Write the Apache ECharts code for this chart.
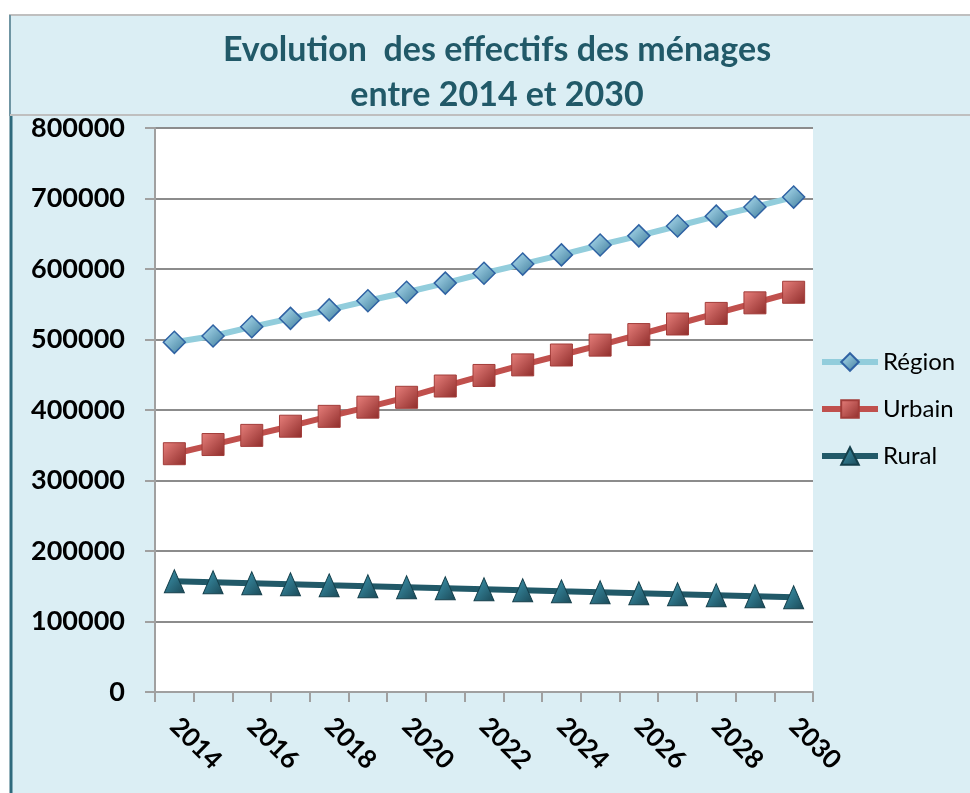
<!DOCTYPE html>
<html>
<head>
<meta charset="utf-8">
<script src="https://cdn.jsdelivr.net/npm/echarts@6/dist/echarts.min.js"></script>
<style>
html,body{margin:0;padding:0;background:#fff;}
#chart{width:970px;height:793px;}
</style>
</head>
<body>
<div id="chart"></div>
<script>
var titleLines = ['Evolution  des effectifs des ménages', 'entre 2014 et 2030'];
var years = ['2014','2015','2016','2017','2018','2019','2020','2021','2022','2023','2024','2025','2026','2027','2028','2029','2030'];
var region = [496000, 505000, 518000, 530000, 542000, 555000, 567000, 580000, 594000, 607000, 620000, 634000, 647000, 661000, 675000, 688000, 702000];
var urbain = [338000, 351000, 364000, 377000, 391000, 404000, 418000, 434000, 449000, 464000, 478000, 492000, 507000, 522000, 537000, 552000, 567000];
var rural  = [157000, 155600, 154200, 152800, 151300, 149900, 148500, 147100, 145700, 144300, 142800, 141400, 140000, 138600, 137200, 135800, 134300];
var seriesNames = ['Région', 'Urbain', 'Rural'];

var chart = echarts.init(document.getElementById('chart'));

function grad(c1, c2) {
  return {type:'linear', x:0, y:0, x2:1, y2:1, colorStops:[{offset:0,color:c1},{offset:1,color:c2}]};
}

var option = {
  backgroundColor: '#ffffff',
  animation: false,
  graphic: [
    {type:'rect', shape:{x:10, y:15, width:962, height:100}, style:{fill:'#dbeef4', stroke:'#bfbfbf', lineWidth:2}, z:-10},
    {type:'rect', shape:{x:10, y:115, width:962, height:690}, style:{fill:'#dbeef4', stroke:null}, z:-10},
    {type:'line', shape:{x1:10, y1:15, x2:10, y2:115}, style:{stroke:'#6f95a3', lineWidth:2}, z:-9},
    {type:'line', shape:{x1:11, y1:115, x2:11, y2:793}, style:{stroke:'#2f6a7c', lineWidth:3}, z:-9},
    {type:'line', shape:{x1:10, y1:115, x2:970, y2:115}, style:{stroke:'#bfbfbf', lineWidth:2}, z:-9},
    {type:'text', x:497, y:50, style:{text:titleLines[0], fill:'#215968', font:'bold 34px Lato', textAlign:'center', textVerticalAlign:'middle'}},
    {type:'text', x:497, y:95, style:{text:titleLines[1], fill:'#215968', font:'bold 34px Lato', textAlign:'center', textVerticalAlign:'middle'}}
  ],
  legend: {
    orient: 'vertical',
    left: 814,
    top: 345,
    itemWidth: 56,
    itemHeight: 22,
    itemGap: 23,
    data: seriesNames,
    lineStyle: {width: 6},
    textStyle: {fontFamily:'Lato', fontSize:24, color:'#000'}
  },
  grid: {
    left: 155, right: 157, top: 128, bottom: 101,
    show: true, backgroundColor: '#ffffff', borderWidth: 0
  },
  xAxis: {
    type: 'category',
    data: years,
    boundaryGap: true,
    axisLine: {lineStyle:{color:'#a0a0a0', width:2}},
    axisTick: {show:true, interval:0, length:10, lineStyle:{color:'#a0a0a0', width:2}},
    axisLabel: {interval:1, rotate:-45, margin:30, fontFamily:'Lato', fontWeight:'bold', fontSize:26, color:'#000'}
  },
  yAxis: {
    type: 'value',
    min: 0, max: 800000, interval: 100000,
    axisLine: {show:true, lineStyle:{color:'#a0a0a0', width:2}},
    axisTick: {show:true, length:10, lineStyle:{color:'#a0a0a0', width:2}},
    splitLine: {show:true, lineStyle:{color:'#8c8c8c', width:2}},
    axisLabel: {margin:30, fontFamily:'Lato', fontWeight:'bold', fontSize:27, color:'#000',
      formatter: function (v) { return String(v); }}
  },
  series: [
    {
      name: seriesNames[0], type: 'line', data: region,
      symbol: 'diamond', symbolSize: [22, 22],
      lineStyle: {color:'#92cddc', width:6},
      itemStyle: {color: grad('#b4e3f5', '#3d7a99'), borderColor:'#2f62a3', borderWidth:1.5},
      z: 3
    },
    {
      name: seriesNames[1], type: 'line', data: urbain,
      symbol: 'rect', symbolSize: [22, 22],
      lineStyle: {color:'#c0504d', width:6},
      itemStyle: {color: grad('#e8807c', '#8e2c2a'), borderColor:'#a23c39', borderWidth:1},
      z: 3
    },
    {
      name: seriesNames[2], type: 'line', data: rural,
      symbol: 'triangle', symbolSize: [20, 23],
      lineStyle: {color:'#215968', width:6},
      itemStyle: {color: grad('#3f9ab3', '#1a4856'), borderColor:'#143f4b', borderWidth:1},
      z: 3
    }
  ]
};
chart.setOption(option);
</script>
</body>
</html>
